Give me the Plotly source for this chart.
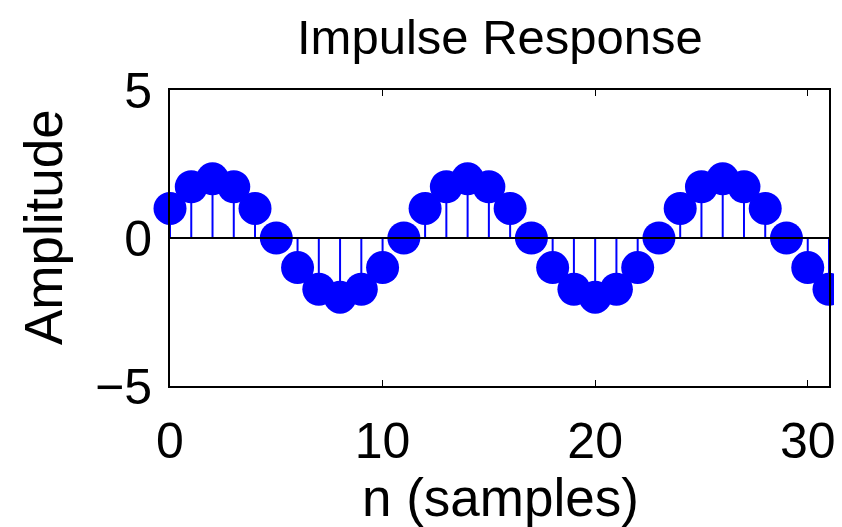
import plotly.graph_objects as go

n = list(range(32))
amplitude = [1.0, 1.73, 2.0, 1.73, 1.0, 0.0, -1.0, -1.73, -2.0, -1.73, -1.0, 0.0,
             1.0, 1.73, 2.0, 1.73, 1.0, 0.0, -1.0, -1.73, -2.0, -1.73, -1.0, 0.0,
             1.0, 1.73, 2.0, 1.73, 1.0, 0.0, -1.0, -1.73]
x_ticks = [0, 10, 20, 30]
y_ticks = [-5, 0, 5]
y_tick_text = ["\u22125", "0", "5"]

stem_x, stem_y = [], []
for xi, yi in zip(n, amplitude):
    stem_x += [xi, xi, None]
    stem_y += [0, yi, None]

fig = go.Figure()
fig.add_trace(go.Scatter(x=stem_x, y=stem_y, mode="lines",
                         line=dict(color="#0000ff", width=2), hoverinfo="skip",
                         showlegend=False, cliponaxis=False))
fig.add_trace(go.Scatter(x=n, y=amplitude, mode="markers",
                         marker=dict(color="#0000ff", size=33, line=dict(width=0)),
                         showlegend=False, cliponaxis=False))
fig.add_shape(type="line", xref="paper", yref="y", x0=0, x1=1, y0=0, y1=0,
              line=dict(color="black", width=2), layer="above")

FS = 50
font = "Liberation Sans, Arial, sans-serif"
OFF = 8  # page body margin offset in the browser
W, H = 842 - OFF, 527 - OFF
L, R, T, B = 170 - OFF, 13, 90 - OFF, 141

def px_to_paper_x(px):
    return (px - OFF - L) / (W - L - R)

def px_to_paper_y(py):
    return (H - B - (py - OFF)) / (H - T - B)

fig.add_annotation(text="Impulse Response", xref="paper", yref="paper",
                   x=px_to_paper_x(500), y=px_to_paper_y(9), xanchor="center",
                   yanchor="top", showarrow=False, borderpad=0, font=dict(size=49))
fig.add_annotation(text="n (samples)", xref="paper", yref="paper",
                   x=px_to_paper_x(500), y=px_to_paper_y(497), xanchor="center",
                   yanchor="middle", showarrow=False, font=dict(size=53))
fig.add_annotation(text="Amplitude", xref="paper", yref="paper",
                   x=px_to_paper_x(43), y=px_to_paper_y(227), xanchor="center",
                   yanchor="middle", textangle=-90, showarrow=False,
                   font=dict(size=53))

fig.update_layout(
    width=W, height=H,
    margin=dict(l=L, r=R, t=T, b=B, autoexpand=False),
    paper_bgcolor="white", plot_bgcolor="white",
    font=dict(family=font, color="black", size=FS),
    xaxis=dict(range=[0, 31], tickvals=x_ticks, ticktext=[str(v) for v in x_ticks],
               showgrid=False, zeroline=False, showline=True, linecolor="black",
               linewidth=2, mirror="allticks", ticks="inside", ticklen=6,
               tickwidth=1, tickcolor="black", tickfont=dict(size=FS),
               automargin=False, ticklabelstandoff=10),
    yaxis=dict(range=[-5, 5], tickvals=y_ticks, ticktext=y_tick_text,
               showgrid=False, zeroline=False, showline=True, linecolor="black",
               linewidth=2, mirror="allticks", ticks="inside", ticklen=6,
               tickwidth=1, tickcolor="black", tickfont=dict(size=FS),
               automargin=False, ticklabelstandoff=6),
)

fig.write_html("out.html")
